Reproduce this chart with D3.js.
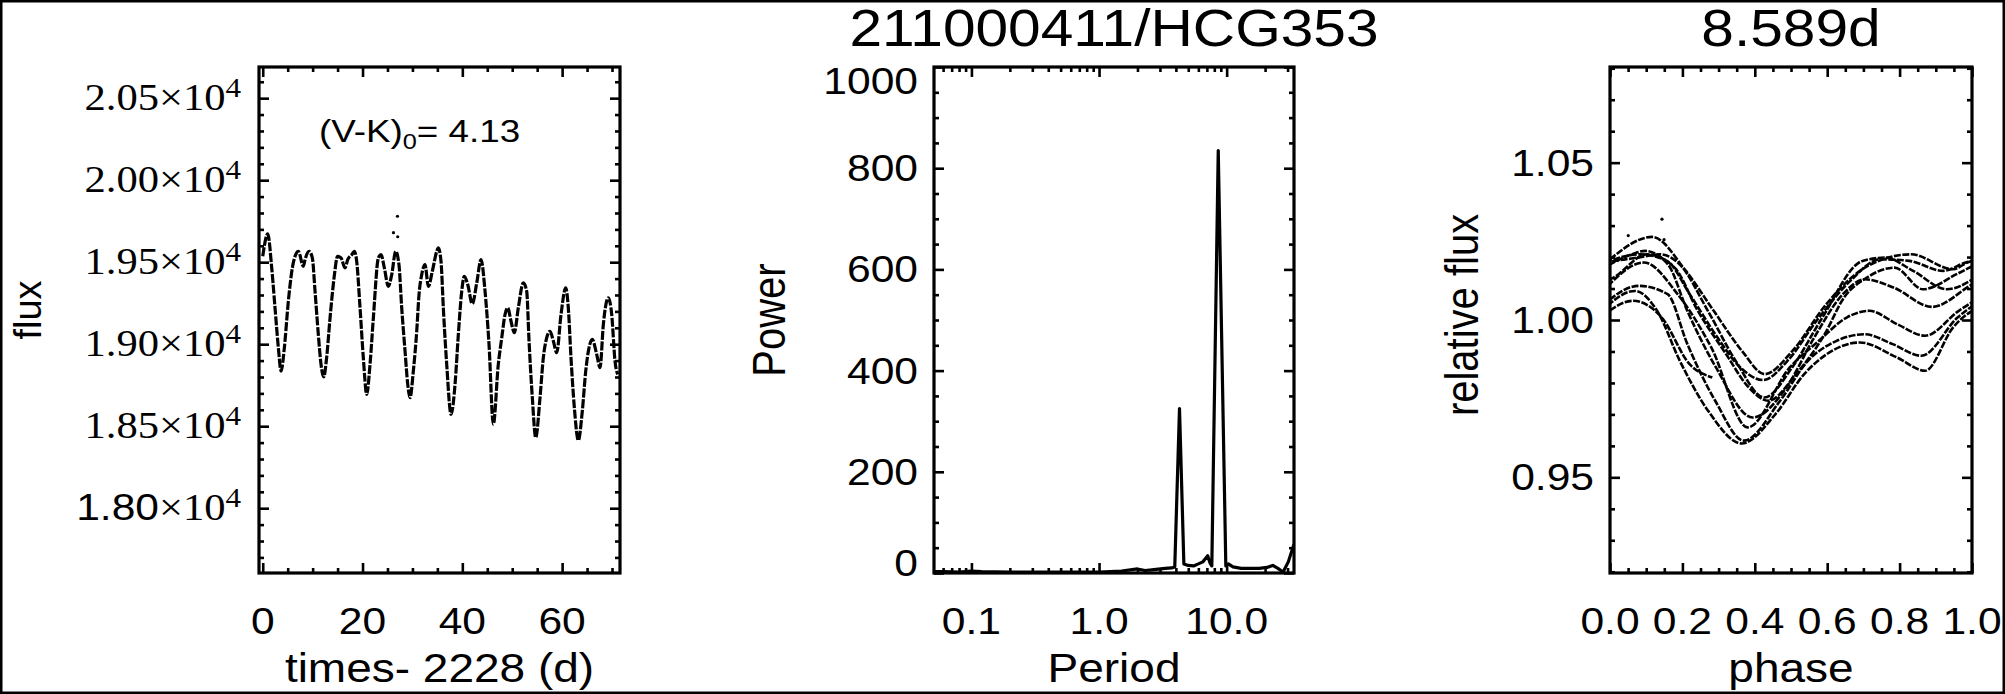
<!DOCTYPE html>
<html><head><meta charset="utf-8">
<script src="https://cdn.jsdelivr.net/npm/d3@7"></script>
<style>html,body{margin:0;padding:0;background:#fff;}svg{display:block;}</style>
</head><body>
<svg id="chart" width="2005" height="694"></svg>
<script>
// ---------------- data ----------------
const lcTime = [0.0, 1.0, 1.8, 2.46, 3.13, 3.67, 4.33, 5.13, 5.93, 6.6, 7.14, 8.14, 8.48, 9.28, 9.94, 10.48, 11.14, 11.68, 12.22, 12.8, 13.49, 14.29, 15.0, 15.69, 16.49, 17.03, 17.83, 18.36, 18.83, 19.5, 20.16, 20.84, 21.5, 22.17, 23.17, 23.71, 24.37, 25.17, 25.85, 26.65, 27.3, 27.85, 28.52, 29.06, 29.52, 30.18, 30.86, 31.32, 31.86, 32.52, 33.19, 33.99, 34.87, 35.19, 35.73, 36.19, 36.87, 37.74, 38.54, 39.2, 39.88, 40.4, 41.08, 42.0, 42.89, 43.75, 44.55, 45.35, 46.21, 47.21, 47.9, 48.56, 49.1, 49.76, 50.42, 51.22, 52.22, 52.9, 53.37, 54.03, 54.71, 55.57, 56.23, 56.91, 57.58, 58.24, 58.92, 59.78, 60.72, 61.24, 61.78, 62.45, 63.25, 64.05, 64.73, 65.39, 66.05, 66.93, 67.6, 68.26, 69.26, 69.94, 70.6, 71.14];
const lcFlux = [19536, 19672, 19465, 19222, 18978, 18836, 18978, 19262, 19465, 19546, 19566, 19475, 19516, 19566, 19526, 19323, 19059, 18877, 18800, 18917, 19161, 19404, 19536, 19526, 19465, 19516, 19546, 19566, 19505, 19222, 18917, 18694, 18877, 19161, 19526, 19546, 19465, 19353, 19424, 19566, 19485, 19222, 18958, 18755, 18674, 18836, 19079, 19303, 19424, 19485, 19353, 19445, 19566, 19587, 19505, 19222, 18877, 18572, 18755, 19059, 19323, 19414, 19364, 19246, 19374, 19516, 19323, 18998, 18512, 18877, 19039, 19181, 19222, 19140, 19070, 19222, 19374, 19323, 19019, 18674, 18431, 18674, 18917, 19039, 19079, 19019, 18948, 19181, 19343, 19222, 18917, 18613, 18414, 18593, 18836, 18978, 19029, 18938, 18857, 19120, 19283, 19181, 18897, 18816];
const outlierTime = [26.2, 27.0, 27.05];
const outlierFlux = [19680, 19780, 19655];

const fluxTicks = [18000, 18500, 19000, 19500, 20000, 20500];
const fluxTickMantissa = ["1.80", "1.85", "1.90", "1.95", "2.00", "2.05"];
const timeTicks = [0, 20, 40, 60];

const pgPeriod = [0.051, 0.06, 0.08, 0.1, 0.12, 0.2, 0.35, 0.6, 1.0, 1.5, 2.0, 2.3, 2.8, 3.3, 3.7, 3.92, 4.27, 4.62, 5.0, 5.5, 6.0, 6.5, 6.9, 7.1, 7.4, 7.65, 8.59, 9.85, 10.3, 11.2, 13.0, 15.5, 18.0, 20.7, 23.0, 25.2, 27.7, 30.4, 33.7];
const pgPower = [3, 3, 2, 4, 3, 2, 2, 2, 2, 4, 8, 5, 7, 9, 10, 12, 325, 18, 15, 14, 18, 22, 30, 34, 20, 14, 835, 14, 18, 12, 9, 9, 9, 11, 15, 9, 2, 22, 57];
const powerTicks = [0, 200, 400, 600, 800, 1000];
const periodTicks = [0.1, 1, 10];
const periodTickLabels = ["0.1", "1.0", "10.0"];

const foldPeriod = 8.589;
const phaseTicks = [0, 0.2, 0.4, 0.6, 0.8, 1.0];
const relFluxTicks = [0.95, 1.00, 1.05];

const titleStar = "211000411/HCG353";
const titlePeriod = "8.589d";
const colourIndex = "4.13";

// ---------------- layout ----------------
const W = 2005, H = 694;
const SX = 1.15;             // horizontal stretch of glyphs
const yTop = 67, yBot = 573;
const P1 = [259, 620], P2 = [934, 1294], P3 = [1610, 1972];
const SANS = "'Liberation Sans', Arial, Helvetica, sans-serif";
const SERIF = "'Liberation Serif', 'Times New Roman', serif";
const TICKFS = 37, TITLEFS = 40;

const svg = d3.select("#chart");
svg.append("rect").attr("x", 0).attr("y", 0).attr("width", W).attr("height", H).attr("fill", "#fff");
svg.append("rect").attr("x", 1.25).attr("y", 1.25).attr("width", W - 2.5).attr("height", H - 2.5)
  .attr("fill", "none").attr("stroke", "#000").attr("stroke-width", 2.5);

function stext(parent, x, y, str, size, anchor = "middle", family = SANS, rot = 0, sx = SX) {
  const g = parent.append("g").attr("transform", `translate(${x},${y}) scale(${sx},1)` + (rot ? ` rotate(${rot})` : ""));
  const t = g.append("text").attr("text-anchor", anchor).attr("font-family", family)
    .attr("font-size", size).attr("fill", "#000");
  if (str !== null) t.text(str);
  return t;
}

function frame(xr, x, y, xMajor, xMinor, yMajor, yMinor) {
  const g = svg.append("g");
  const mk = (axisFn, scale, vals, len, tx, ty) => {
    const a = axisFn(scale).tickValues(vals).tickSizeInner(-len).tickSizeOuter(0).tickFormat("");
    const gg = g.append("g").attr("transform", `translate(${tx},${ty})`).call(a);
    gg.select(".domain").remove();
    gg.selectAll(".tick line").attr("stroke", "#000").attr("stroke-width", 2.6);
  };
  mk(d3.axisBottom, x, xMajor, 10, 0, yBot);
  mk(d3.axisBottom, x, xMinor, 5, 0, yBot);
  mk(d3.axisTop, x, xMajor, 10, 0, yTop);
  mk(d3.axisTop, x, xMinor, 5, 0, yTop);
  mk(d3.axisLeft, y, yMajor, 10, xr[0], 0);
  mk(d3.axisLeft, y, yMinor, 5, xr[0], 0);
  mk(d3.axisRight, y, yMajor, 10, xr[1], 0);
  mk(d3.axisRight, y, yMinor, 5, xr[1], 0);
  g.append("rect").attr("x", xr[0]).attr("y", yTop).attr("width", xr[1] - xr[0]).attr("height", yBot - yTop)
    .attr("fill", "none").attr("stroke", "#000").attr("stroke-width", 3.2);
  return g;
}

function clip(id, xr) {
  svg.append("clipPath").attr("id", id).append("rect")
    .attr("x", xr[0]).attr("y", yTop).attr("width", xr[1] - xr[0]).attr("height", yBot - yTop);
}

const XLAB_Y = 634, XTITLE_Y = 682;

// ---------------- panel 1: light curve ----------------
const x1 = d3.scaleLinear().domain([-0.75, 71.6]).range(P1);
const y1 = d3.scaleLinear().domain([17605, 20690]).range([yBot, yTop]);
clip("c1", P1);
const lc = lcTime.map((t, i) => ({ t, f: lcFlux[i] }));
const g1 = svg.append("g").attr("clip-path", "url(#c1)");
g1.append("path").datum(lc)
  .attr("d", d3.line().x(d => x1(d.t)).y(d => y1(d.f)).curve(d3.curveMonotoneX))
  .attr("fill", "none").attr("stroke", "#000").attr("stroke-width", 3.2).attr("stroke-linejoin", "round")
  .attr("stroke-dasharray", "9,1.6");
g1.selectAll("circle.o").data(outlierTime.map((t, i) => ({ t, f: outlierFlux[i] }))).join("circle")
  .attr("cx", d => x1(d.t)).attr("cy", d => y1(d.f)).attr("r", 1.6).attr("fill", "#000");

frame(P1, x1, y1, timeTicks, d3.range(5, 71, 5).filter(v => v % 20 !== 0),
  fluxTicks, d3.range(17700, 20700, 100).filter(v => v % 500 !== 0));

timeTicks.forEach(v => stext(svg, x1(v), XLAB_Y, String(v), TICKFS));
fluxTicks.forEach((v, i) => {
  const t = stext(svg, (P1[0] - 18), y1(v) + 12, null, TICKFS, "end", SERIF);
  t.append("tspan").attr("font-family", fluxTickMantissa[i] === "1.80" ? SANS : SERIF).text(fluxTickMantissa[i]);
  t.append("tspan").text("\u00d710");
  t.append("tspan").attr("font-size", 27).attr("dy", -13).text("4");
});
stext(svg, (P1[0] + P1[1]) / 2, XTITLE_Y, "times- 2228 (d)", TITLEFS);
stext(svg, 41, 310, "flux", 38, "middle", SANS, -90, 1.0);
{
  const t = stext(svg, 319, 142, null, 32, "start");
  t.append("tspan").text("(V-K)");
  t.append("tspan").attr("font-size", 22).attr("dy", 7).text("0");
  t.append("tspan").attr("dy", -7).text("= " + colourIndex);
}

// ---------------- panel 2: periodogram ----------------
const x2 = d3.scaleLog().domain([0.0509, 33.7]).range(P2);
const y2 = d3.scaleLinear().domain([0, 1000]).range([yBot, yTop]);
clip("c2", P2);
const pg = pgPeriod.map((p, i) => ({ p, w: pgPower[i] }));
svg.append("g").attr("clip-path", "url(#c2)").append("path").datum(pg)
  .attr("d", d3.line().x(d => x2(d.p)).y(d => y2(d.w)))
  .attr("fill", "none").attr("stroke", "#000").attr("stroke-width", 3.2).attr("stroke-linejoin", "round");
const logMinor = [];
[0.01, 0.1, 1, 10].forEach(dec => d3.range(2, 10).forEach(m => { const v = m * dec; if (v > 0.0509 && v < 33.7) logMinor.push(v); }));
frame(P2, x2, y2, periodTicks, logMinor, powerTicks, d3.range(50, 1000, 50).filter(v => v % 200 !== 0));
periodTicks.forEach((v, i) => stext(svg, x2(v), XLAB_Y, periodTickLabels[i], TICKFS));
powerTicks.forEach(v => {
  let yy = y2(v) + 13;
  if (v === 1000) yy = yTop + 27;
  if (v === 0) yy = yBot + 3;
  stext(svg, P2[0] - 16, yy, String(v), TICKFS, "end");
});
stext(svg, (P2[0] + P2[1]) / 2, XTITLE_Y, "Period", TITLEFS);
stext(svg, 785, (yTop + yBot) / 2, "Power", TITLEFS, "middle", SANS, -90);
stext(svg, (P2[0] + P2[1]) / 2, 46, titleStar, 51);

// ---------------- panel 3: phased light curve ----------------
const x3 = d3.scaleLinear().domain([0, 1]).range(P3);
const y3 = d3.scaleLinear().domain([0.9196, 1.0804]).range([yBot, yTop]);
clip("c3", P3);
const meanFlux = d3.mean(lcFlux);
const folded = lcTime.map((t, i) => ({ cyc: Math.floor(t / foldPeriod), ph: (t / foldPeriod) % 1, r: lcFlux[i] / meanFlux }));
const cycles = d3.groups(folded, d => d.cyc);
const g3 = svg.append("g").attr("clip-path", "url(#c3)");
cycles.forEach(([c, pts]) => {
  const prev = folded.filter(d => d.cyc === c - 1).slice(-1).map(d => ({ ph: d.ph - 1, r: d.r }));
  const next = folded.filter(d => d.cyc === c + 1).slice(0, 1).map(d => ({ ph: d.ph + 1, r: d.r }));
  const seg = prev.concat(pts, next);
  g3.append("path").datum(seg)
    .attr("d", d3.line().x(d => x3(d.ph)).y(d => y3(d.r)).curve(d3.curveMonotoneX))
    .attr("fill", "none").attr("stroke", "#000").attr("stroke-width", 2.6).attr("stroke-dasharray", "7,1.5");
});
g3.selectAll("circle.o").data(outlierTime.map((t, i) => ({ ph: (t / foldPeriod) % 1, r: outlierFlux[i] / meanFlux }))).join("circle")
  .attr("cx", d => x3(d.ph)).attr("cy", d => y3(d.r)).attr("r", 1.6).attr("fill", "#000");
frame(P3, x3, y3, phaseTicks, d3.range(0.05, 1, 0.05).filter(v => Math.abs(v / 0.2 - Math.round(v / 0.2)) > 1e-6),
  relFluxTicks, d3.range(0.92, 1.0805, 0.01).filter(v => Math.abs(v / 0.05 - Math.round(v / 0.05)) > 1e-6));
phaseTicks.forEach(v => stext(svg, x3(v), XLAB_Y, v.toFixed(1), TICKFS));
relFluxTicks.forEach(v => stext(svg, P3[0] - 16, y3(v) + 13, v.toFixed(2), TICKFS, "end"));
stext(svg, (P3[0] + P3[1]) / 2, XTITLE_Y, "phase", TITLEFS);
stext(svg, 1478, 315, "relative flux", TITLEFS, "middle", SANS, -90);
stext(svg, (P3[0] + P3[1]) / 2, 46, titlePeriod, 51);
</script>
</body></html>
